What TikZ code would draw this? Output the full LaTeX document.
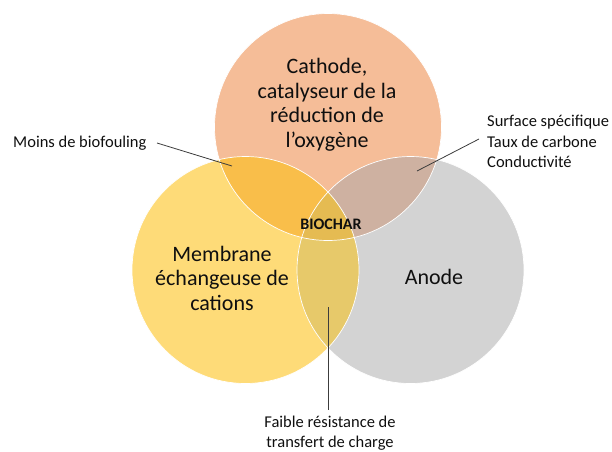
\documentclass[tikz,border=0pt]{standalone}
\usepackage{fontspec}
\setmainfont{Carlito}
\definecolor{cO}{RGB}{245,189,152}
\definecolor{cY}{RGB}{254,219,120}
\definecolor{cG}{RGB}{211,211,211}
\definecolor{cOY}{RGB}{249,190,74}
\definecolor{cOG}{RGB}{206,177,161}
\definecolor{cYG}{RGB}{231,201,106}
\definecolor{cOYG}{RGB}{229,187,82}
\definecolor{ink}{RGB}{15,15,15}
\definecolor{leader}{RGB}{60,60,60}
\tikzset{
  bigtext/.style={font=\fontsize{22}{24.5}\selectfont, text=ink, align=center, inner sep=0pt},
  smalltext/.style={font=\fontsize{16.5}{20.5}\selectfont, text=ink, align=left, inner sep=0pt},
  leaderline/.style={draw=leader, line width=0.8pt},
  rim/.style={draw=white, line width=0.7pt}
}
\begin{document}
\begin{tikzpicture}[x=1pt,y=-1pt]
\useasboundingbox (0,0) rectangle (612,451);
\coordinate (cT) at (328,127);
\coordinate (cL) at (245.5,270);
\coordinate (cR) at (410.5,270);
\def\rr{113.5pt}
% base circles
\fill[cO] (cT) circle (\rr);
\fill[cY] (cL) circle (\rr);
\fill[cG] (cR) circle (\rr);
% pairwise overlaps
\begin{scope}\clip (cT) circle (\rr); \fill[cOY] (cL) circle (\rr); \end{scope}
\begin{scope}\clip (cT) circle (\rr); \fill[cOG] (cR) circle (\rr); \end{scope}
\begin{scope}\clip (cL) circle (\rr); \fill[cYG] (cR) circle (\rr); \end{scope}
% triple overlap
\begin{scope}\clip (cT) circle (\rr); \clip (cL) circle (\rr); \fill[cOYG] (cR) circle (\rr); \end{scope}
% white rims
\draw[rim] (cT) circle (\rr);
\draw[rim] (cL) circle (\rr);
\draw[rim] (cR) circle (\rr);
% circle texts
\node[bigtext] (cathode) at (327,104.5) {Cathode,\\catalyseur de la\\réduction de\\l’oxygène};
\node[bigtext] (membrane) at (222,278) {Membrane\\échangeuse de\\cations};
\node[bigtext] (anode) at (434,277) {Anode};
\node[font=\bfseries\fontsize{16}{18}\selectfont, text=ink, inner sep=0pt] (biochar) at (331,224) {BIOCHAR};
% labels
\node[smalltext, anchor=west] (moins) at (13,143) {Moins de biofouling};
\node[smalltext, anchor=west] (surface) at (487,141.5) {Surface spécifique\\Taux de carbone\\Conductivité};
\node[smalltext, align=center] (faible) at (330,433) {Faible résistance de\\transfert de charge};
% leader lines
\coordinate (mA) at (157,143);
\coordinate (mB) at (232,166);
\coordinate (sA) at (479,139);
\coordinate (sB) at (417,171);
\coordinate (fA) at (328,307);
\coordinate (fB) at (328,410);
\draw[leaderline] (mA) -- (mB);
\draw[leaderline] (sA) -- (sB);
\draw[leaderline] (fA) -- (fB);
\end{tikzpicture}
\end{document}
